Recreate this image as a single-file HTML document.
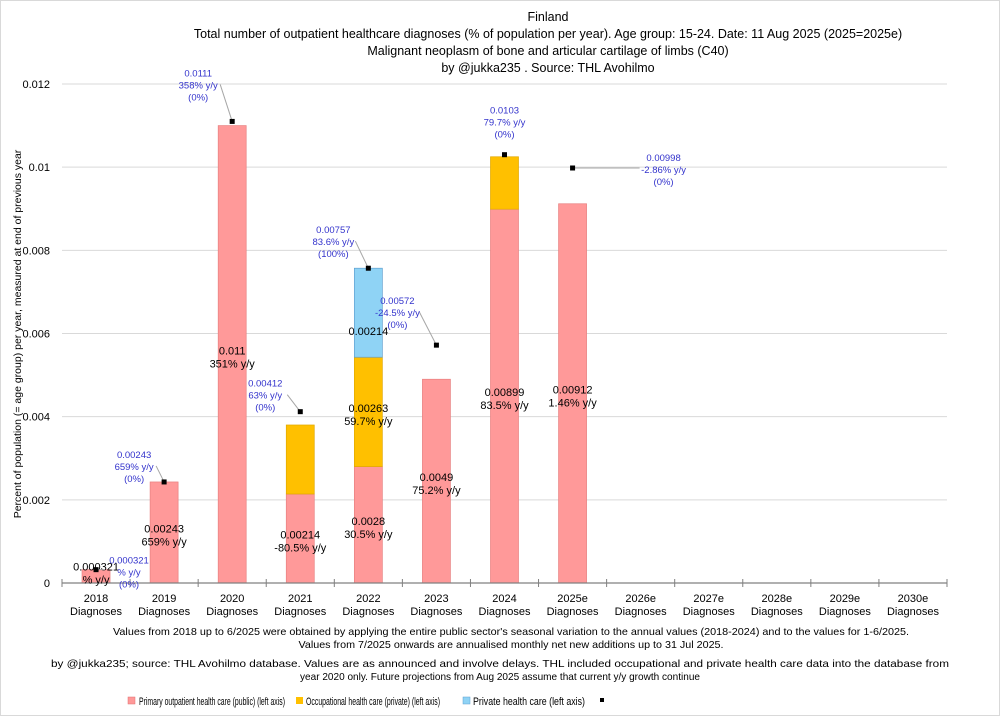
<!DOCTYPE html>
<html><head><meta charset="utf-8">
<style>
body{margin:0;background:#fff;}
svg{display:block;font-family:"Liberation Sans",sans-serif;}
</style></head>
<body>
<svg id="chart" width="1000" height="716" xmlns="http://www.w3.org/2000/svg">
<rect x="0.5" y="0.5" width="999" height="715" fill="#fff" stroke="#d9d9d9"/>
<g font-size="12.5" text-anchor="middle" fill="#000">
<text x="548" y="21">Finland</text>
<text x="548" y="38">Total number of outpatient healthcare diagnoses (% of population per year). Age group: 15-24. Date: 11 Aug 2025 (2025=2025e)</text>
<text x="548" y="55">Malignant neoplasm of bone and articular cartilage of limbs (C40)</text>
<text x="548" y="72">by @jukka235 . Source: THL Avohilmo</text>
</g>
<g id="grid"></g>
<g id="bars"></g>
<g id="axes"></g>
<g id="labels"></g>
<text transform="translate(21,334) rotate(-90)" font-size="10.5" text-anchor="middle">Percent of population (= age group) per year, measured at end of previous year</text>
<g font-size="10.5" text-anchor="middle">
<text x="511" y="635" textLength="796" lengthAdjust="spacingAndGlyphs">Values from 2018 up to 6/2025 were obtained by applying the entire public sector's seasonal variation to the annual values (2018-2024) and to the values for 1-6/2025.</text>
<text x="511" y="648" textLength="425" lengthAdjust="spacingAndGlyphs">Values from 7/2025 onwards are annualised monthly net new additions up to 31 Jul 2025.</text>
<text x="500" y="667" textLength="898" lengthAdjust="spacingAndGlyphs">by @jukka235; source: THL Avohilmo database. Values are as announced and involve delays. THL included occupational and private health care data into the database from</text>
<text x="500" y="680" textLength="400" lengthAdjust="spacingAndGlyphs">year 2020 only. Future projections from Aug 2025 assume that current y/y growth continue</text>
</g>
<g font-size="11">
<g><rect x="128" y="697" width="7" height="7" fill="#ff9999" stroke="#e07070" stroke-width="0.5"/><text x="139" y="705" textLength="146" lengthAdjust="spacingAndGlyphs">Primary outpatient health care (public) (left axis)</text></g>
<g><rect x="296" y="697" width="7" height="7" fill="#ffc000"/><text x="306" y="705" textLength="134" lengthAdjust="spacingAndGlyphs">Occupational health care (private) (left axis)</text></g>
<g><rect x="463" y="697" width="7" height="7" fill="#8fd3f5" stroke="#5fa0d0" stroke-width="0.5"/><text x="473" y="705" textLength="112" lengthAdjust="spacingAndGlyphs">Private health care (left axis)</text></g>
<g><rect x="600" y="698" width="4" height="4" fill="#000"/></g>
</g>
</svg>
<script>
const categories=["2018","2019","2020","2021","2022","2023","2024","2025e","2026e","2027e","2028e","2029e","2030e"];
const publicVals=[0.000321,0.00243,0.011,0.00214,0.0028,0.0049,0.00899,0.00912,0,0,0,0,0];
const occupVals=[0,0,0,0.00166,0.00263,0,0.00126,0,0,0,0,0,0];
const privateVals=[0,0,0,0,0.00214,0,0,0,0,0,0,0,0];
const totalVals=[0.000321,0.00243,0.0111,0.00412,0.00757,0.00572,0.0103,0.00998];
const totalYoy=["","659%","358%","63%","83.6%","-24.5%","79.7%","-2.86%"];
const totalShare=["(0%)","(0%)","(0%)","(0%)","(100%)","(0%)","(0%)","(0%)"];
const publicYoy=["%","659%","351%","-80.5%","30.5%","75.2%","83.5%","1.46%"];
const yTicks=[0,0.002,0.004,0.006,0.008,0.01,0.012];
const yTickLabels=["0","0.002","0.004","0.006","0.008","0.01","0.012"];
// label offsets (layout only)
const lblDx=[33,-30,-34,-35,-35,-39,0,91];
const lblDy=[-10,-28,-49,-29,-39,-45,-45,-11];

const NS="http://www.w3.org/2000/svg";
const L=62,R=947,T=84,B=583;
const bw=(R-L)/categories.length;
const y=v=>B-(v/0.012)*(B-T);
const xc=i=>L+bw*(i+0.5);
function mk(tag,attrs,parent,txt){const e=document.createElementNS(NS,tag);for(const k in attrs)e.setAttribute(k,attrs[k]);if(txt!==undefined)e.textContent=txt;parent.appendChild(e);return e;}
const grid=document.getElementById('grid'),bars=document.getElementById('bars'),axes=document.getElementById('axes'),labels=document.getElementById('labels');
yTicks.forEach((t,i)=>{
  if(t>0){const g=mk('line',{x1:L,x2:R,y1:y(t),y2:y(t),stroke:'#d9d9d9','stroke-width':1},grid);
  
  }
  const tl=mk('text',{x:50,y:y(t)+4,'font-size':11,'text-anchor':'end'},axes,yTickLabels[i]);
  
  
});
mk('line',{x1:L,x2:R,y1:B,y2:B,stroke:'#808080','stroke-width':1.2},axes);
for(let i=0;i<=categories.length;i++){mk('line',{x1:L+bw*i,x2:L+bw*i,y1:B-4,y2:B+4,stroke:'#808080'},axes);}
categories.forEach((c,i)=>{
  const t=mk('text',{x:xc(i),y:B+19,'font-size':11,'text-anchor':'middle'},axes,c);
  
  
  const t2=mk('text',{x:xc(i),y:B+32,'font-size':11,'text-anchor':'middle'},axes,'Diagnoses');
  
  
});
const w=28;
categories.forEach((c,i)=>{
  let base=0;
  [[publicVals,'#ff9999','#e88080'],[occupVals,'#ffc000','#e0a800'],[privateVals,'#8fd3f5','#5fa0d0']].forEach(([arr,f,s],k)=>{
    const v=arr[i];if(!v)return;
    const r=mk('rect',{x:xc(i)-w/2,y:y(base+v),width:w,height:y(base)-y(base+v),fill:f,stroke:s,'stroke-width':0.7},bars);
    
    
    base+=v;
  });
});
function inLabel(i,v0,v1,txt1,txt2){
  const mid=y((v0+v1)/2);
  const t=mk('text',{x:xc(i),y:mid,'font-size':11,'text-anchor':'middle'},labels);
  
  
  mk('tspan',{x:xc(i),dy:0},t,txt1);
  if(txt2)mk('tspan',{x:xc(i),dy:13},t,txt2);
}
publicVals.forEach((v,i)=>{ if(!v)return;
  inLabel(i,0,Math.max(v,0.0006),String(v),publicYoy[i]==='%'?'% y/y':publicYoy[i]+' y/y');
});
occupVals.forEach((v,i)=>{ if(i===4) inLabel(i,publicVals[i],publicVals[i]+v,String(v),'59.7% y/y');});
privateVals.forEach((v,i)=>{ if(v){const b=publicVals[i]+occupVals[i]; inLabel(i,b+v*0.25,b+v*0.25,String(v),'');}});
totalVals.forEach((v,i)=>{
  const mx=xc(i),my=y(v);
  const lx=mx+lblDx[i], ly=my+lblDy[i];
  if(lblDx[i]!==0){
    const ex=lblDx[i]>0?lx-24:lx+22;
    const ln=mk('line',{x1:mx,y1:my,x2:ex,y2:lblDx[i]>0?my:ly+12,stroke:'#a6a6a6','stroke-width':1},labels);
    
    
  }
  const m=mk('rect',{x:mx-2.5,y:my-2.5,width:5,height:5,fill:'#000'},labels);
  
  
  const t=mk('text',{x:lx,y:ly+4,'font-size':9.5,'text-anchor':'middle',fill:'#3333cc'},labels);
  
  
  mk('tspan',{x:lx,dy:0},t,String(v));
  mk('tspan',{x:lx,dy:12},t,(totalYoy[i]||'')+(totalYoy[i]?' y/y':'% y/y'));
  mk('tspan',{x:lx,dy:12},t,totalShare[i]);
});
</script>
</body></html>
